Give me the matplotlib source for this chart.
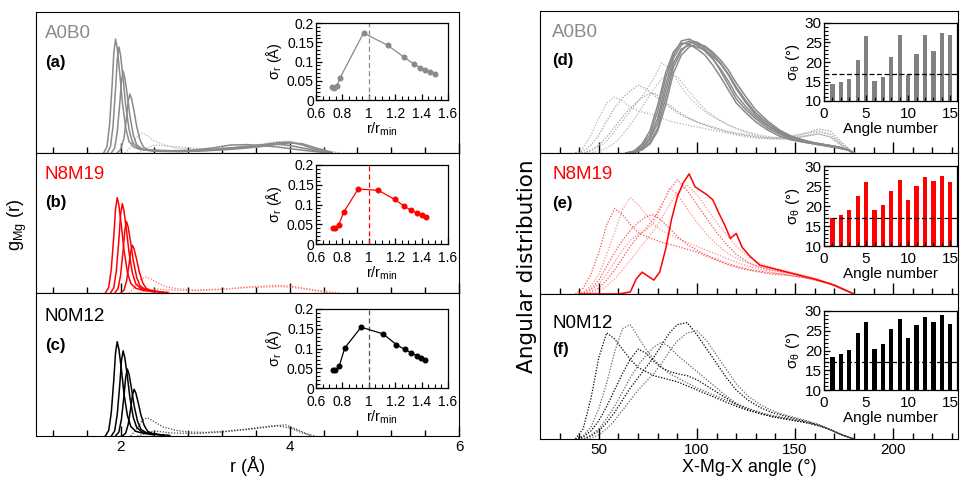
import matplotlib
matplotlib.use('Agg')
import matplotlib.pyplot as plt
from matplotlib.ticker import FixedLocator, MultipleLocator

plt.rcParams['font.family'] = ['Liberation Sans', 'DejaVu Sans']
plt.rcParams['mathtext.default'] = 'regular'

# ---------------- data: g(r) curves (left column) ----------------
a1_r = [1.80,1.84,1.87,1.90,1.92,1.94,1.96,1.99,2.02,2.06,2.10,2.16,2.24,2.5,2.7,2.9,3.1,3.3,3.5,3.7,3.85,4.0,4.15,4.3,4.5]
a1_g = [0.0,0.34,1.43,3.42,5.02,5.7,5.24,3.99,2.57,1.25,0.57,0.29,0.17,0.12,0.1,0.12,0.18,0.26,0.34,0.42,0.45,0.38,0.25,0.12,0.0]
a2_r = [1.84,1.88,1.91,1.94,1.96,1.98,2.00,2.03,2.06,2.10,2.14,2.20,2.28,2.5,2.7,2.9,3.1,3.3,3.5,3.7,3.85,4.0,4.15,4.3,4.5]
a2_g = [0.0,0.32,1.33,3.18,4.66,5.3,4.88,3.71,2.39,1.17,0.53,0.27,0.16,0.12,0.12,0.16,0.26,0.4,0.42,0.36,0.3,0.22,0.14,0.07,0.0]
a3_r = [1.89,1.93,1.96,1.99,2.01,2.03,2.05,2.08,2.11,2.15,2.19,2.25,2.33,2.5,2.7,2.9,3.1,3.3,3.5,3.7,3.85,4.0,4.15,4.3,4.5]
a3_g = [0.0,0.25,1.03,2.46,3.61,4.1,3.77,2.87,1.85,0.90,0.41,0.21,0.12,0.1,0.08,0.1,0.15,0.22,0.3,0.42,0.52,0.55,0.4,0.18,0.0]
a4_r = [1.96,2.00,2.04,2.07,2.09,2.11,2.13,2.16,2.19,2.23,2.27,2.33,2.38,2.5,2.7,2.9,3.1,3.3,3.5,3.7,3.85,4.0,4.15,4.3,4.5]
a4_g = [0.0,0.18,0.74,1.77,2.60,2.95,2.71,2.07,1.33,0.65,0.30,0.15,0.1,0.08,0.07,0.09,0.13,0.18,0.25,0.34,0.44,0.5,0.46,0.26,0.03]
ad1_r = [2.05,2.12,2.18,2.25,2.32,2.40,2.55,2.7,2.9,3.1,3.3,3.5,3.7,3.9,4.1,4.3,4.5]
ad1_g = [0,0.3,0.75,1.0,0.85,0.6,0.35,0.22,0.18,0.2,0.25,0.3,0.35,0.38,0.3,0.15,0.0]
ad2_r = [2.2,2.4,2.7,3.0,3.3,3.6,3.8,4.0,4.2,4.4,4.6]
ad2_g = [0,0.4,0.3,0.2,0.25,0.4,0.55,0.6,0.4,0.15,0]

b1_r = [1.82,1.86,1.89,1.92,1.94,1.96,1.98,2.01,2.04,2.08,2.12,2.18,2.26,2.40]
b1_g = [0,0.29,1.2,2.88,4.22,4.8,4.42,3.36,2.16,1.06,0.48,0.24,0.14,0.05]
b2_r = [1.88,1.92,1.95,1.98,2.00,2.02,2.04,2.07,2.10,2.14,2.18,2.24,2.32,2.46]
b2_g = [0,0.27,1.13,2.7,3.96,4.5,4.14,3.15,2.03,0.99,0.45,0.23,0.14,0.05]
b3_r = [1.93,1.97,2.00,2.03,2.05,2.07,2.09,2.12,2.15,2.19,2.23,2.29,2.37,2.50]
b3_g = [0,0.22,0.9,2.16,3.17,3.6,3.31,2.52,1.62,0.79,0.36,0.18,0.11,0.04]
b4_r = [2.00,2.04,2.07,2.10,2.12,2.14,2.16,2.19,2.22,2.26,2.30,2.36,2.44,2.56]
b4_g = [0,0.14,0.6,1.44,2.11,2.4,2.21,1.68,1.08,0.53,0.24,0.12,0.07,0.03]
bd1_r = [2.10,2.18,2.24,2.30,2.36,2.44,2.55,2.70,2.90,3.10,3.30,3.50,3.70,3.90,4.10,4.30,4.50]
bd1_g = [0,0.35,0.7,0.8,0.7,0.5,0.3,0.2,0.15,0.18,0.22,0.27,0.3,0.32,0.25,0.12,0]
bd2_r = [2.2,2.4,2.6,2.9,3.2,3.5,3.8,4.0,4.2,4.4,4.6]
bd2_g = [0,0.2,0.15,0.12,0.18,0.3,0.38,0.36,0.22,0.08,0]

c1_r = [1.82,1.86,1.89,1.92,1.94,1.96,1.98,2.01,2.04,2.08,2.12,2.18,2.26,2.40]
c1_g = [0,0.28,1.16,2.79,4.09,4.65,4.28,3.26,2.09,1.02,0.47,0.23,0.14,0.05]
c2_r = [1.89,1.93,1.96,1.99,2.01,2.03,2.05,2.08,2.11,2.15,2.19,2.25,2.33,2.47]
c2_g = [0,0.25,1.05,2.52,3.70,4.2,3.86,2.94,1.89,0.92,0.42,0.21,0.13,0.05]
c3_r = [1.94,1.98,2.01,2.04,2.06,2.08,2.10,2.13,2.16,2.20,2.24,2.30,2.38,2.51]
c3_g = [0,0.2,0.83,1.98,2.90,3.3,3.04,2.31,1.49,0.73,0.33,0.17,0.1,0.04]
c4_r = [2.02,2.06,2.09,2.12,2.14,2.16,2.18,2.21,2.24,2.28,2.32,2.38,2.46,2.58]
c4_g = [0,0.14,0.58,1.38,2.02,2.3,2.12,1.61,1.04,0.51,0.23,0.12,0.07,0.03]
cd1_r = [2.12,2.2,2.26,2.32,2.40,2.5,2.65,2.8,3.0,3.2,3.4,3.6,3.8,3.95,4.1,4.25]
cd1_g = [0,0.4,0.8,0.9,0.7,0.45,0.28,0.2,0.18,0.22,0.3,0.4,0.5,0.55,0.3,0]
cd2_r = [2.2,2.4,2.6,2.9,3.2,3.5,3.7,3.85,4.0,4.15,4.3]
cd2_g = [0,0.25,0.15,0.12,0.2,0.32,0.42,0.5,0.4,0.15,0]

# ---------------- data: sigma_r insets ----------------
ia_x = [0.72,0.74,0.758,0.783,0.96,1.143,1.268,1.339,1.386,1.429,1.467,1.50]
ia_y = [0.035,0.032,0.037,0.058,0.174,0.142,0.111,0.094,0.084,0.078,0.073,0.068]
ib_x = [0.726,0.746,0.771,0.809,0.919,1.072,1.195,1.268,1.321,1.364,1.402,1.432]
ib_y = [0.041,0.040,0.047,0.080,0.139,0.136,0.113,0.096,0.085,0.079,0.073,0.068]
ic_x = [0.728,0.746,0.776,0.819,0.942,1.108,1.208,1.271,1.321,1.362,1.394,1.424]
ic_y = [0.045,0.045,0.056,0.102,0.154,0.137,0.110,0.098,0.089,0.082,0.076,0.072]

# ---------------- data: angular distributions (right column) ----------------
d_grid = [64,68,72,76,80,84,88,92,96,100,104,108,112,116,120,125,130,136,142,148,154,160,166,172,177,180]
d_s1 = [0,1,6,15,35,68,95,108,112,108,102,94,84,72,58,46,36,27,20,15,12,10,8,6,3,0]
d_s2 = [0,2,9,22,48,80,101,110,109,104,98,88,76,63,50,40,31,23,17,13,11,9,7,5,3,0]
d_s3 = [0,0,4,11,25,55,86,102,110,111,106,99,90,79,66,52,40,30,22,16,13,10,8,6,3,0]
d_s4 = [0,1,5,14,30,62,90,104,108,106,103,97,89,78,64,50,38,28,21,16,12,10,8,6,3,0]
d_s5 = [0,2,8,18,42,75,98,112,114,110,104,95,82,68,54,43,34,25,19,14,11,9,7,5,3,0]
d_s6 = [0,1,3,9,22,48,80,98,106,109,107,101,93,83,70,56,43,32,23,17,13,10,8,6,3,0]

dot_grid = [38,42,46,50,54,58,62,66,70,74,78,82,86,90,95,100,105,110,115,120,126,132,138,144,150,156,162,168,174,180]
dd1 = [0,5,18,35,50,56,52,46,42,40,38,35,32,30,28,26,24,22,20,18,16,15,15,16,18,20,22,18,8,0]
dd2 = [0,2,8,18,32,45,55,62,68,64,58,52,46,40,35,31,28,25,22,20,18,16,15,15,17,20,24,22,10,0]
dd3 = [0,0,2,6,12,22,32,42,52,62,75,90,85,72,58,48,40,34,29,25,21,18,16,15,16,18,21,19,9,0]
dd4 = [0,0,3,8,16,26,36,45,52,58,60,55,48,42,36,31,27,24,21,19,17,15,14,14,15,17,19,16,7,0]
dd5 = [0,0,0,2,5,10,18,28,40,52,64,74,80,76,64,52,42,35,29,24,20,17,15,14,15,17,19,16,7,0]

e_grid = [40,50,60,66,69,72,75,78,81,84,87,90,93,96,99,102,105,108,111,114,117,120,123,127,132,140,150,160,170,180]
e_solid = [0,0,0,2,15,22,18,14,22,45,75,98,112,121,108,104,100,95,82,70,56,61,47,38,29,25,20,15,9,0]
ed1 = [0,6,20,42,70,86,80,70,62,58,55,52,50,48,45,42,38,34,30,27,24,22,20,19,18,16,14,10,5,0]
ed2 = [0,2,8,20,40,62,85,97,90,80,70,64,60,56,52,48,44,40,36,32,28,25,22,20,18,16,13,10,5,0]
ed3 = [0,0,2,6,14,24,36,48,58,66,76,90,105,115,104,90,76,62,50,40,32,27,24,22,20,17,14,10,5,0]
ed4 = [0,0,4,10,20,32,44,54,60,64,72,88,107,100,86,72,60,50,42,36,31,27,24,22,20,17,14,10,5,0]
ed5 = [0,1,5,14,28,42,54,64,72,78,80,74,66,58,50,44,39,35,31,28,25,23,21,20,18,16,13,10,5,0]
ed6 = [0,0,0,3,8,15,24,34,44,54,64,76,90,102,110,100,86,72,60,48,38,31,27,24,21,18,15,10,5,0]

fd1 = [0,10,40,80,104,98,88,78,70,66,62,60,58,56,52,48,44,40,36,32,28,25,22,20,18,16,13,9,4,0]
fd2 = [0,3,12,30,55,85,108,112,100,88,78,70,64,60,55,50,46,42,38,34,30,26,23,21,19,16,13,9,4,0]
fd3 = [0,0,3,8,16,26,38,50,60,70,80,92,104,112,114,102,88,74,60,48,38,31,26,23,20,17,14,9,4,0]
fd4 = [0,0,1,4,10,18,28,38,48,56,64,74,86,96,104,106,96,82,68,54,42,34,28,24,21,18,14,9,4,0]
fd5 = [0,2,8,18,32,48,64,78,88,84,76,70,66,64,62,58,52,46,40,34,29,25,22,20,18,16,13,9,4,0]
fd6 = [0,0,4,10,20,32,46,60,72,82,90,95,90,82,74,66,58,50,42,35,30,26,23,21,19,16,13,9,4,0]

# ---------------- data: sigma_theta insets ----------------
angle_number = list(range(1, 16))
sig_d = [14.4,14.8,15.6,20.4,26.6,15.2,16.1,21.2,26.8,16.7,22.1,26.8,22.7,27.5,26.8]
sig_e = [16.9,17.8,19.1,22.5,26.1,19.1,20.2,23.75,26.6,21.5,25.0,27.2,26.3,27.6,26.1]
sig_f = [18.4,19.1,20.1,24.5,27.1,20.3,21.7,25.5,28.1,23.1,26.5,28.4,27.1,28.9,26.6]
sig_ref = [17.0, 16.9, 17.1]

labels_sys = ['A0B0', 'N8M19', 'N0M12']
labels_left = ['(a)', '(b)', '(c)']
labels_right = ['(d)', '(e)', '(f)']

GRAY = '#8a8a8a'
LGRAY = '#b4b4b4'
RED = '#ff0000'
BLACK = '#000000'

W, H = 960, 479
fig = plt.figure(figsize=(9.6, 4.79), dpi=100)


def fr(x0, y0, x1, y1):
    return [x0 / W, 1 - y1 / H, (x1 - x0) / W, (y1 - y0) / H]


DOT = (0, (1, 1.3))

left_boxes = [(36, 12, 459, 153), (36, 153, 459, 293), (36, 293, 459, 436)]
right_boxes = [(540, 11, 958, 153), (540, 153, 958, 294), (540, 294, 958, 439)]
lin_boxes = [(316, 23, 448, 100), (316, 165, 448, 244), (316, 309, 448, 388)]
rin_boxes = [(824, 23, 957, 101), (824, 166, 957, 246), (824, 311, 957, 390)]

sys_colors = [GRAY, RED, BLACK]

left_solid = [[(a1_r, a1_g), (a2_r, a2_g), (a3_r, a3_g), (a4_r, a4_g)],
              [(b1_r, b1_g), (b2_r, b2_g), (b3_r, b3_g), (b4_r, b4_g)],
              [(c1_r, c1_g), (c2_r, c2_g), (c3_r, c3_g), (c4_r, c4_g)]]
left_dot = [[(ad1_r, ad1_g), (ad2_r, ad2_g)],
            [(bd1_r, bd1_g), (bd2_r, bd2_g)],
            [(cd1_r, cd1_g), (cd2_r, cd2_g)]]
left_dot_colors = [LGRAY, '#ff7070', '#444444']
ins_data = [(ia_x, ia_y), (ib_x, ib_y), (ic_x, ic_y)]
ins_dash_col = [GRAY, RED, '#555555']

label_y_sys = [0.851, 0.843, 0.839]
label_y_let = [0.645, 0.643, 0.63]

for i in range(3):
    ax = fig.add_axes(fr(*left_boxes[i]))
    for r, g in left_dot[i]:
        ax.plot(r, g, ls=DOT, color=left_dot_colors[i], lw=0.9)
    for r, g in left_solid[i]:
        ax.plot(r, g, '-', color=sys_colors[i], lw=1.1)
    ax.set_xlim(1, 6)
    ax.set_ylim(0, 7.05)
    ax.set_yticks([])
    ax.xaxis.set_major_locator(FixedLocator([2, 4, 6]))
    ax.xaxis.set_minor_locator(FixedLocator([1.2, 1.6, 2.4, 2.8, 3.2, 3.6, 4.4, 4.8, 5.2, 5.6]))
    ax.tick_params(axis='x', which='major', direction='in', length=7.2, width=1, labelsize=11, pad=3)
    ax.tick_params(axis='x', which='minor', direction='in', length=4, width=1)
    if i < 2:
        ax.tick_params(axis='x', labelbottom=False)
    else:
        ax.set_xlabel('r (Å)', fontsize=13, labelpad=1)
    ax.text(0.021, label_y_sys[i], labels_sys[i], transform=ax.transAxes, color=sys_colors[i],
            fontsize=13.5, va='center', ha='left')
    ax.text(0.021, label_y_let[i], labels_left[i], transform=ax.transAxes, color='black',
            fontsize=12, fontweight='bold', va='center', ha='left')
    # inset
    ins = fig.add_axes(fr(*lin_boxes[i]))
    ins.axvline(1.0, color=ins_dash_col[i], ls=(0, (4, 2.5)), lw=0.9)
    x, y = ins_data[i]
    ins.plot(x, y, '-o', color=sys_colors[i], ms=3.3, lw=0.9)
    ins.set_xlim(0.6, 1.6)
    ins.set_ylim(0, 0.2)
    ins.set_xticks([0.6, 0.8, 1.0, 1.2, 1.4, 1.6])
    ins.set_xticklabels(['0.6', '0.8', '1', '1.2', '1.4', '1.6'])
    ins.set_yticks([0, 0.05, 0.1, 0.15, 0.2])
    ins.set_yticklabels(['0', '0.05', '0.1', '0.15', '0.2'])
    ins.xaxis.set_minor_locator(MultipleLocator(0.05))
    ins.yaxis.set_minor_locator(MultipleLocator(0.01))
    ins.tick_params(which='major', direction='in', length=4.5, width=0.9, labelsize=10, pad=1.5)
    ins.tick_params(axis='x', which='major', pad=5)
    ins.tick_params(which='minor', direction='in', length=2.8, width=0.8)
    ins.set_ylabel(r'$\sigma_r$ (Å)', fontsize=10.5, labelpad=2)
    ins.set_xlabel(r'$r/r_{min}$', fontsize=10.5, labelpad=0)
    for sp in ins.spines.values():
        sp.set_linewidth(0.9)

fig.text(17 / W, 1 - 225 / H, r'$g_{Mg}$ (r)', rotation=90, fontsize=13, ha='center', va='center')

right_solid = [[d_s1, d_s2, d_s3, d_s4, d_s5, d_s6], [e_solid], []]
right_solid_grid = [d_grid, e_grid, None]
right_dot = [[dd1, dd2, dd3, dd4, dd5], [ed1, ed2, ed3, ed4, ed5, ed6], [fd1, fd2, fd3, fd4, fd5, fd6]]
right_dot_colors = [[LGRAY, '#a0a0a0'], ['#ff5050', '#ff9090'], ['#000000', '#666666']]
sigs = [sig_d, sig_e, sig_f]
bar_colors = ['#808080', RED, BLACK]
label_y_sys_r = [0.852, 0.844, 0.80]
label_y_let_r = [0.648, 0.645, 0.614]

for i in range(3):
    ax = fig.add_axes(fr(*right_boxes[i]))
    for k, yv in enumerate(right_dot[i]):
        ax.plot(dot_grid, yv, ls=DOT, color=right_dot_colors[i][k % 2], lw=0.9)
    for yv in right_solid[i]:
        ax.plot(right_solid_grid[i], yv, '-', color=sys_colors[i], lw=1.1)
    ax.set_xlim(20, 233)
    ax.set_ylim(0, 142)
    ax.set_yticks([])
    ax.xaxis.set_major_locator(FixedLocator([50, 100, 150, 200]))
    ax.xaxis.set_minor_locator(FixedLocator([v for v in range(30, 240, 10) if v % 50 != 0]))
    ax.tick_params(axis='x', which='major', direction='in', length=7.6, width=1, labelsize=11, pad=3)
    ax.tick_params(axis='x', which='minor', direction='in', length=4.2, width=1)
    if i < 2:
        ax.tick_params(axis='x', labelbottom=False)
    else:
        ax.set_xlabel('X-Mg-X angle (°)', fontsize=13, labelpad=1)
    ax.text(0.029, label_y_sys_r[i], labels_sys[i], transform=ax.transAxes, color=sys_colors[i],
            fontsize=13.5, va='center', ha='left')
    ax.text(0.029, label_y_let_r[i], labels_right[i], transform=ax.transAxes, color='black',
            fontsize=12, fontweight='bold', va='center', ha='left')
    ins = fig.add_axes(fr(*rin_boxes[i]))
    ins.bar(angle_number, sigs[i], width=0.5, color=bar_colors[i], bottom=0)
    ins.axhline(sig_ref[i], color='black', ls=(0, (4, 2)), lw=0.9)
    ins.set_xlim(0, 15.8)
    ins.set_ylim(10, 30)
    ins.set_xticks([0, 5, 10, 15])
    ins.set_yticks([10, 15, 20, 25, 30])
    ins.xaxis.set_minor_locator(MultipleLocator(1))
    ins.yaxis.set_minor_locator(MultipleLocator(1))
    ins.tick_params(which='major', direction='in', length=4.5, width=0.9, labelsize=11, pad=1.5)
    ins.tick_params(axis='x', which='major', pad=4.5)
    ins.tick_params(which='minor', direction='in', length=2.8, width=0.8)
    ins.set_ylabel(r'$\sigma_\theta$ (°)', fontsize=11, labelpad=2)
    ins.set_xlabel('Angle number', fontsize=11, labelpad=0.5)
    for sp in ins.spines.values():
        sp.set_linewidth(0.9)

fig.text(527 / W, 1 - 266 / H, 'Angular distribution', rotation=90, fontsize=15.5,
         family=['DejaVu Sans'], ha='center', va='center')

fig.savefig('out.png', dpi=100)
